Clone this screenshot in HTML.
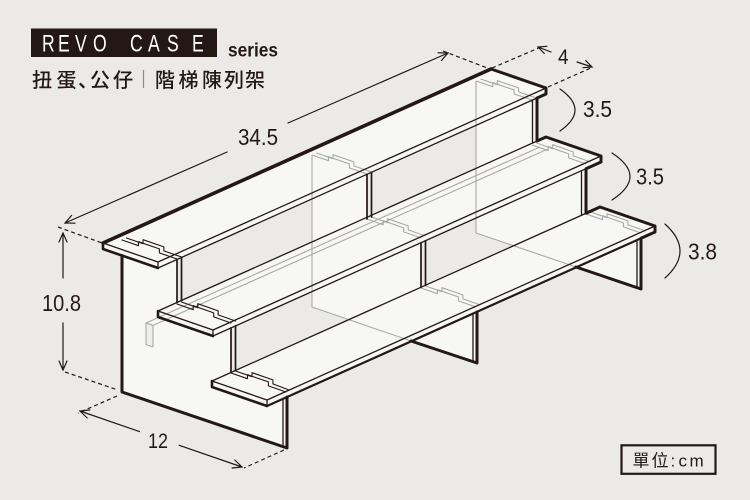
<!DOCTYPE html>
<html><head><meta charset="utf-8"><style>html,body{margin:0;padding:0;background:#ebeae8}svg{display:block}</style></head>
<body>
<svg width="750" height="500" viewBox="0 0 750 500" xmlns="http://www.w3.org/2000/svg">
<rect width="750" height="500" fill="#ebeae8"/>

<!-- faces -->
<g fill="#f7f7f6" stroke="none">
 <polygon points="476,81 537,102 537,147 586,164 586,216 641,235 641,289 476,233"/>
 <polygon points="312,155 367,174 367,221 421,240 421,290 477,309 477,363 312,307"/>
 <polygon points="122,240 177,259 177,306 231,325 231,375 287,394 287,448 122,392"/>
 <polygon points="103,243 491,69 546,88 546,94 158,268 103,249"/>
 <polygon points="158,311 546,137 601,156 601,162 213,336 158,317"/>
 <polygon points="212,381 600,207 655,226 655,232 267,406 212,387"/>
</g>

<!-- see-through grey lines -->
<g fill="none" stroke="#a9a9a9" stroke-width="1.1" stroke-linejoin="round">
 <polygon points="146,323 153,325.4 153,347 146,344.6" fill="#eeeeed"/>
 <path d="M146,323 L540,147 M153,325.4 L547,149.4"/>
 <path d="M312,155 V307 L411,341 M476,81 V233 L576,267"/>
 <polyline points="312,155 328.5,160.7 328.5,156.7 349.4,163.9 349.4,167.9 367,174"/>
 <polyline points="316.5,153 333,158.7 333,154.7 353.9,161.9 353.9,165.9 371.5,172"/>
 <polyline points="367,219 383.2,224.7 383.2,220.7 403.7,227.9 403.7,231.9 421,238"/>
 <polyline points="371.5,217 387.7,222.7 387.7,218.7 408.2,225.9 408.2,229.9 425.5,236"/>
 <polyline points="421,288 437.5,293.7 437.5,289.7 458.4,296.9 458.4,300.9 476,307"/>
 <polyline points="425.5,286 442,291.7 442,287.7 462.9,294.9 462.9,298.9 480.5,305"/>
 <polyline points="476,81 492.8,86.7 492.8,82.7 514.1,89.9 514.1,93.9 532,100"/>
 <polyline points="480.5,79 497.3,84.7 497.3,80.7 518.6,87.9 518.6,91.9 536.5,98"/>
 <polyline points="532,145 548.2,150.7 548.2,146.7 568.7,153.9 568.7,157.9 586,164"/>
 <polyline points="536.5,143 552.7,148.7 552.7,144.7 573.2,151.9 573.2,155.9 590.5,162"/>
 <polyline points="586,214 602.5,219.7 602.5,215.7 623.4,222.9 623.4,226.9 641,233"/>
 <polyline points="590.5,212 607,217.7 607,213.7 627.9,220.9 627.9,224.9 645.5,231"/>
</g>

<!-- visible black edges -->
<g fill="none" stroke="#231815" stroke-linejoin="round" stroke-linecap="round">
 <path stroke-width="1.3" d="M158,262 L546,88 M158,268 L537,98 M103,243 L158,262 L158,268
  M158,311 L546,137 M213,330 L601,156 M213,336 L586,168.7 M158,311 L213,330 L213,336
  M212,381 L600,207 M267,400 L655,226 M212,381 L267,400 L267,406
  M283,398.8 V446.6 M473,313.6 V361.6 M532.5,100 V143 M581.5,170.7 V215.3 M637,240 V287.6"/>
 <path stroke-width="1.7" d="M177,259.5 V302.5 M181.5,257.5 V300.5 M231,327.9 V372.5 M235.5,325.9 V370.5
  M367,174.3 V219 M371.5,172.2 V217 M421,242.7 V287.3 M425.5,240.7 V285.3"/>
 <g stroke-width="1.1">
  <polyline points="122,240 138.5,245.7 138.5,241.7 159.4,248.9 159.4,252.9 177,259"/>
  <polyline points="126.5,238 143,243.7 143,239.7 163.9,246.9 163.9,250.9 181.5,257"/>
  <polyline points="177,304 193.2,309.7 193.2,305.7 213.7,312.9 213.7,316.9 231,323"/>
  <polyline points="181.5,302 197.7,307.7 197.7,303.7 218.2,310.9 218.2,314.9 235.5,321"/>
  <polyline points="231,373 247.5,378.7 247.5,374.7 268.4,381.9 268.4,385.9 286,392"/>
  <polyline points="235.5,371 252,376.7 252,372.7 272.9,379.9 272.9,383.9 289,390"/>
 </g>
 <path stroke-width="3.6" d="M103,243 L491,69"/>
 <path stroke-width="3" d="M491,69 L546,88 L546,94 L537,98 L537,141 L546,137 L601,156 L601,162 L586,168.7 L586,213.3 L600,207 L655,226 L655,232 L641,238.3 L641,289 L576,267"/>
 <path stroke-width="2.6" d="M103,243 L103,249 L158,268 M158,311 L158,317 L213,336 M212,381 L212,387 L267,406"/>
 <path stroke-width="2.2" d="M267,406 L655,232"/>
 <path stroke-width="3" d="M122,255.6 V392 L287,448 V397 M411,341 L477,363 V312"/>
</g>

<!-- dimensions -->
<g stroke="#231815" stroke-width="1.2" fill="none" stroke-linecap="round">
 <path d="M65,223 L227,152 M288,123 L448,53"/>
 <path d="M75,223.2 L65,223 L71.6,215.4 M438,52.8 L448,53 L441.4,60.6"/>
 <path d="M63,233 V278 M63,323 V370 M59,242 L63,233 L67,242 M59,361 L63,370 L67,361"/>
 <path d="M80,411 L139.5,431.6 M179.2,445.3 L242,467 M87.2,418 L80,411 L89.9,410 M234.8,460 L242,467 L232.1,468"/>
 <path d="M538,47 L551,52 M577,62 L592,67 M544.3,53.4 L538,47 L547,46.3 M585.7,60.6 L592,67 L583,67.7"/>
 <path d="M560,89 Q590,110 560,131 M612,153 Q648,176.5 612,200 M665,224 Q695,251 665,278"/>
 <path stroke-dasharray="4 3" stroke-linecap="butt" d="M58,227 L102,243 M443,51 L490,69 M492,68 L541,47 M548,87 L593,67 M65,372 L118,390 M117,396 L78,413 M284,450 L244,468"/>
</g>

<g font-family="'Liberation Sans', sans-serif" fill="#231815" font-size="23">
 <text x="238" y="145" textLength="40" lengthAdjust="spacingAndGlyphs">34.5</text>
 <text x="42" y="311" textLength="39" lengthAdjust="spacingAndGlyphs">10.8</text>
 <text x="148" y="448" font-size="21" textLength="20" lengthAdjust="spacingAndGlyphs">12</text>
 <text x="558" y="64" font-size="21" textLength="10.5" lengthAdjust="spacingAndGlyphs">4</text>
 <text x="583" y="117" textLength="29" lengthAdjust="spacingAndGlyphs">3.5</text>
 <text x="636" y="184.5" textLength="28" lengthAdjust="spacingAndGlyphs">3.5</text>
 <text x="688" y="259.5" textLength="29" lengthAdjust="spacingAndGlyphs">3.8</text>
</g>

<!-- header -->
<rect x="31" y="28.5" width="186" height="28.5" fill="#231815"/>
<text font-family="'Liberation Sans', sans-serif" transform="scale(0.72,1)" y="51.7" font-size="24.5" fill="#ffffff" x="58.3 80.6 104.2 129.2 152.8 180.6 205.6 231.9 266.7">REVO CASE</text>
<text font-family="'Liberation Sans', sans-serif" x="228" y="56.5" font-size="19" font-weight="bold" fill="#231815" textLength="50" lengthAdjust="spacingAndGlyphs">series</text>
<text font-family="'Liberation Sans','Noto Sans CJK JP',sans-serif" font-size="20" font-weight="500" fill="#231815" x="32 56.5 78 90 113" y="87">扭蛋、公仔</text>
<line x1="143.5" y1="70" x2="143.5" y2="88" stroke="#8a8a8a" stroke-width="1.2"/>
<text font-family="'Liberation Sans','Noto Sans CJK TC',sans-serif" font-size="20" font-weight="500" fill="#231815" x="155 178.5 202 224 245" y="87">階梯陳列架</text>

<!-- unit box -->
<rect x="621.5" y="445.3" width="94" height="28.5" fill="none" stroke="#231815" stroke-width="2.2"/>
<text font-family="'Liberation Sans','Noto Sans CJK TC',sans-serif" font-size="17" fill="#231815" x="632.5 651.5 670.5 678.5 689.5" y="466.5">單位:cm</text>
</svg>
</body></html>
